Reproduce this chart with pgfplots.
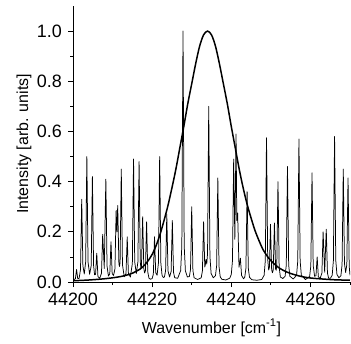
\documentclass[border=0pt]{standalone}
\usepackage{fontspec}
\setmainfont{Liberation Sans}
\usepackage{pgfplots}
\pgfplotsset{compat=1.18}
\usetikzlibrary{calc}
\begin{document}
\begin{tikzpicture}
\begin{axis}[
  scale only axis, width=277bp, height=276bp,
  xmin=44200, xmax=44270, ymin=0, ymax=1.1,
  axis x line*=bottom, axis y line*=left,
  axis line style={-, line width=0.9pt},
  every tick/.style={black, line width=0.8pt},
  tick align=outside, major tick length=5bp, minor tick length=3bp,
  scaled x ticks=false,
  xtick={44200,44220,44240,44260}, xticklabels={44200,44220,44240,44260},
  minor xtick={44210,44230,44250,44270},
  ytick={0,0.2,0.4,0.6,0.8,1.0}, minor ytick={0.1,0.3,0.5,0.7,0.9},
  /pgf/number format/assume math mode=true,
  yticklabel style={/pgf/number format/fixed, /pgf/number format/fixed zerofill, /pgf/number format/precision=1, inner sep=1bp, xshift=-5bp},
  xticklabel style={inner sep=1bp, yshift=-5bp},
  tick label style={font=\fontsize{18}{20}\selectfont},
  xlabel={Wavenumber [cm\textsuperscript{-1}]},
  ylabel={Intensity [arb. units]},
  every axis x label/.style={at={(axis description cs:0.5,0)}, anchor=base, yshift=-51bp, font=\fontsize{16}{18}\selectfont},
  every axis y label/.style={at={(axis description cs:-0.177,0.5)}, rotate=90, anchor=center, font=\fontsize{16}{18}\selectfont},
]
\addplot[black, line width=0.75pt, line join=round] coordinates {
(44200.0,0.008) (44200.6,0.013) (44200.9,0.05) (44201.2,0.013) (44201.55,0.015)
(44201.9,0.05) (44202.2,0.33) (44202.5,0.065) (44202.85,0.032)
(44203.2,0.08) (44203.5,0.50) (44203.8,0.08) (44204.2,0.031)
(44204.6,0.065) (44204.9,0.42) (44205.2,0.066) (44205.45,0.029)
(44205.7,0.03) (44206.0,0.115) (44206.3,0.022) (44206.75,0.015)
(44207.2,0.035) (44207.5,0.19) (44207.9,0.054)
(44208.3,0.41) (44208.6,0.064) (44208.95,0.024)
(44209.3,0.033) (44209.6,0.16) (44209.9,0.033) (44210.25,0.026)
(44210.6,0.053) (44210.9,0.285) (44211.1,0.2) (44211.3,0.305)
(44211.6,0.072) (44211.75,0.062) (44211.9,0.079)
(44212.2,0.45) (44212.5,0.069) (44212.95,0.021)
(44213.4,0.034) (44213.7,0.18) (44214.0,0.034) (44214.5,0.02)
(44215.0,0.074) (44215.3,0.49) (44215.6,0.079) (44216.0,0.034)
(44216.4,0.08) (44216.7,0.48) (44217.0,0.081) (44217.15,0.056) (44217.3,0.061)
(44217.6,0.26) (44217.9,0.053) (44218.1,0.036) (44218.3,0.045)
(44218.6,0.24) (44218.9,0.04) (44219.2,0.015) (44219.6,0.011)
(44220.0,0.014) (44220.3,0.031) (44220.6,0.18) (44220.9,0.037) (44221.25,0.027)
(44221.6,0.077) (44221.9,0.50) (44222.2,0.076) (44222.5,0.027) (44222.8,0.018)
(44223.1,0.02) (44223.4,0.045) (44223.7,0.27) (44224.0,0.045) (44224.4,0.02)
(44224.8,0.042) (44225.1,0.245) (44225.4,0.039) (44225.7,0.017) (44226.45,0.015)
(44227.2,0.045) (44227.5,0.143) (44227.8,1.0) (44228.1,0.144) (44228.4,0.045) (44228.9,0.02)
(44229.4,0.022) (44229.7,0.05) (44230.0,0.30) (44230.3,0.046) (44230.6,0.017) (44231.5,0.01)
(44232.4,0.017) (44232.7,0.044) (44233.0,0.24) (44233.3,0.06) (44233.45,0.07)
(44233.6,0.09) (44233.8,0.072) (44234.0,0.113) (44234.3,0.70) (44234.6,0.103)
(44234.9,0.034) (44235.45,0.017)
(44236.0,0.025) (44236.3,0.065) (44236.6,0.415) (44236.9,0.062) (44237.2,0.021)
(44237.6,0.011) (44238.6,0.008) (44239.6,0.015)
(44240.0,0.03) (44240.3,0.085) (44240.6,0.49) (44240.9,0.17) (44241.2,0.59)
(44241.4,0.245) (44241.6,0.275) (44241.95,0.059) (44242.3,0.095) (44242.6,0.026)
(44243.1,0.013) (44243.4,0.019) (44243.7,0.055) (44244.0,0.36) (44244.3,0.055)
(44244.6,0.019) (44245.2,0.009) (44246.45,0.007) (44247.7,0.01)
(44248.3,0.027) (44248.6,0.086) (44248.9,0.575) (44249.2,0.091) (44249.45,0.048)
(44249.65,0.06) (44249.9,0.23) (44250.2,0.049) (44250.4,0.037)
(44250.6,0.048) (44250.9,0.235) (44251.2,0.052) (44251.35,0.047)
(44251.5,0.069) (44251.8,0.40) (44252.1,0.06) (44252.4,0.02) (44253.0,0.014)
(44253.6,0.023) (44253.9,0.068) (44254.2,0.46) (44254.5,0.068) (44254.8,0.023)
(44255.65,0.012)
(44256.5,0.027) (44256.8,0.084) (44257.1,0.57) (44257.4,0.084) (44257.7,0.027)
(44258.75,0.01)
(44259.8,0.022) (44260.1,0.065) (44260.4,0.435) (44260.7,0.066) (44261.05,0.023)
(44261.4,0.025) (44261.7,0.10) (44262.0,0.021) (44262.45,0.014)
(44262.9,0.036) (44263.2,0.20) (44263.6,0.039) (44264.0,0.21) (44264.3,0.036)
(44264.6,0.015) (44265.05,0.015)
(44265.5,0.027) (44265.8,0.085) (44266.1,0.58) (44266.4,0.087) (44266.7,0.03)
(44267.2,0.017)
(44267.7,0.025) (44268.0,0.07) (44268.3,0.45) (44268.6,0.074) (44268.9,0.038)
(44269.2,0.07) (44269.5,0.415) (44269.8,0.062) (44270.0,0.027)
};
\addplot[black, line width=1.5pt, smooth] coordinates {
(44200,0.005) (44204,0.008) (44208,0.013) (44211,0.019) (44213,0.025)
(44215,0.035) (44217,0.052) (44218,0.066) (44219,0.085) (44220,0.11)
(44221,0.145) (44222,0.19) (44223,0.245) (44224,0.305) (44225,0.375)
(44226,0.45) (44227,0.535) (44228,0.62) (44229,0.71) (44230,0.79)
(44231,0.87) (44232,0.94) (44233,0.985) (44234,1.0) (44235,0.985)
(44236,0.94) (44237,0.87) (44238,0.79) (44239,0.71) (44240,0.62)
(44241,0.535) (44242,0.45) (44243,0.375) (44244,0.31) (44245,0.255)
(44246,0.205) (44247,0.165) (44248,0.13) (44249,0.105) (44250,0.085)
(44252,0.057) (44254,0.04) (44256,0.029) (44258,0.021) (44260,0.016)
(44263,0.012) (44266,0.009) (44270,0.007)
};
\end{axis}
\pgfresetboundingbox
\path[use as bounding box] ($(current axis.south west)+(-73bp,-61bp)$) rectangle ($(current axis.north east)+(1bp,6bp)$);
\end{tikzpicture}
\end{document}
